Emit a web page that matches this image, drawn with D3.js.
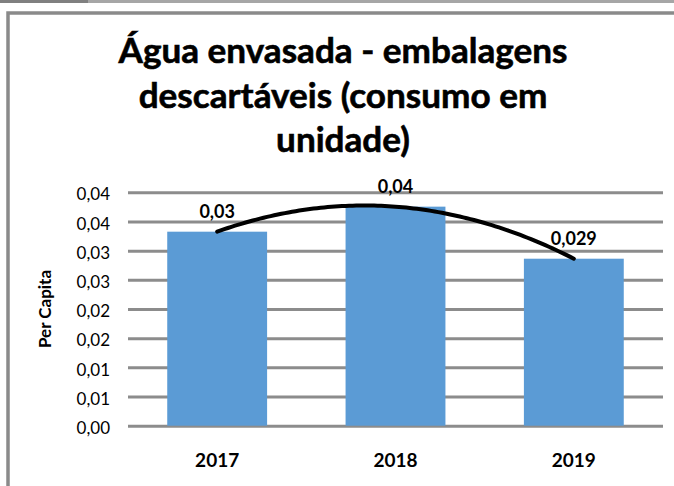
<!DOCTYPE html>
<html>
<head>
<meta charset="utf-8">
<script src="https://cdn.jsdelivr.net/npm/d3@7"></script>
<style>
  body { margin: 0; background: #fff; }
  svg { display: block; font-family: Lato, "Open Sans", sans-serif; }
</style>
</head>
<body>
<div id="chart"></div>
<script>
// chart data
var years = ["2017", "2018", "2019"];
var perCapita = [0.03325, 0.03754, 0.02862];
var valueLabels = ["0,03", "0,04", "0,029"];
var yTicks = [0, 0.005, 0.01, 0.015, 0.02, 0.025, 0.03, 0.035, 0.04];
var yTickLabels = ["0,00", "0,01", "0,01", "0,02", "0,02", "0,03", "0,03", "0,04", "0,04"];
var titleLines = ["Água envasada - embalagens", "descartáveis (consumo em", "unidade)"];

var svgWidth = 674;
var svgHeight = 486;

// plot area
var plot = { left: 128, right: 663, top: 192.3, bottom: 425.7 };

var svg = d3.select("#chart")
  .append("svg")
  .attr("width", svgWidth)
  .attr("height", svgHeight);

// thin strip at the very top and the chart frame
svg.append("line")
  .attr("x1", 0).attr("x2", svgWidth)
  .attr("y1", 1.5).attr("y2", 1.5)
  .attr("stroke", "#a6a6a6")
  .attr("stroke-width", 3);
svg.append("line")
  .attr("x1", 0).attr("x2", 88)
  .attr("y1", 1.5).attr("y2", 1.5)
  .attr("stroke", "#808080")
  .attr("stroke-width", 3);

svg.append("rect")
  .attr("x", 8)
  .attr("y", 13)
  .attr("width", svgWidth + 20)
  .attr("height", svgHeight + 20)
  .attr("fill", "none")
  .attr("stroke", "#8a8a8a")
  .attr("stroke-width", 3.5);

// title, fitted to the width of the first line
var title = svg.append("text")
  .attr("text-anchor", "middle")
  .attr("font-weight", "bold")
  .attr("font-size", 30)
  .attr("fill", "#000")
  .attr("stroke", "#000")
  .attr("stroke-width", 0.6);

title.selectAll("tspan")
  .data(titleLines)
  .enter()
  .append("tspan")
  .attr("x", 343)
  .attr("y", (d, i) => 63 + i * 44.5)
  .text(d => d);

var firstLine = title.select("tspan").node().getComputedTextLength();
title.attr("font-size", 30 * 449 / firstLine);

// scales
var xScale = d3.scaleBand()
  .domain(years)
  .range([plot.left, plot.right])
  .paddingInner(0.44)
  .paddingOuter(0.22);

var yScale = d3.scaleLinear()
  .domain([0, 0.04])
  .range([plot.bottom, plot.top]);

// gridlines + y tick labels
var leftAxis = d3.axisLeft(yScale)
  .tickValues(yTicks)
  .tickFormat((d, i) => yTickLabels[i])
  .tickSize(-(plot.right - plot.left))
  .tickPadding(18);

var yAxis = svg.append("g")
  .attr("transform", `translate(${plot.left}, 0)`)
  .call(leftAxis);

yAxis.select(".domain").remove();
yAxis.selectAll(".tick line")
  .attr("stroke", "#8c8c8c")
  .attr("stroke-width", 3);
yAxis.selectAll(".tick text")
  .attr("font-family", "Lato, sans-serif")
  .attr("font-size", 17)
  .attr("fill", "#000")
  .attr("dy", "0.45em");

// bars
svg.selectAll(".bar")
  .data(perCapita)
  .enter()
  .append("rect")
  .attr("class", "bar")
  .attr("x", (d, i) => xScale(years[i]))
  .attr("y", d => yScale(d))
  .attr("width", xScale.bandwidth())
  .attr("height", d => plot.bottom - yScale(d))
  .attr("fill", "#5b9bd5");

// polynomial (order 2) trendline through the bar values
function trendAt(t) {
  var y0 = perCapita[0], y1 = perCapita[1], y2 = perCapita[2];
  return y0 * (t - 1) * (t - 2) / 2 - y1 * t * (t - 2) + y2 * t * (t - 1) / 2;
}
var xStart = xScale(years[0]) + xScale.bandwidth() / 2;
var xStep = xScale.step();
var trendPoints = d3.range(0, 2.0001, 0.02);

var trendLine = d3.line()
  .x(t => xStart + t * xStep)
  .y(t => yScale(trendAt(t)));

svg.append("path")
  .datum(trendPoints)
  .attr("d", trendLine)
  .attr("fill", "none")
  .attr("stroke", "#000")
  .attr("stroke-width", 4)
  .attr("stroke-linecap", "round");

// value labels
svg.selectAll(".value-label")
  .data(perCapita)
  .enter()
  .append("text")
  .attr("class", "value-label")
  .attr("x", (d, i) => xScale(years[i]) + xScale.bandwidth() / 2)
  .attr("y", d => yScale(d) - 14)
  .attr("text-anchor", "middle")
  .attr("font-weight", "bold")
  .attr("font-size", 18)
  .text((d, i) => valueLabels[i]);

// x labels
svg.selectAll(".year-label")
  .data(years)
  .enter()
  .append("text")
  .attr("class", "year-label")
  .attr("x", d => xScale(d) + xScale.bandwidth() / 2)
  .attr("y", 467)
  .attr("text-anchor", "middle")
  .attr("font-weight", "bold")
  .attr("font-size", 19)
  .text(d => d);

// y axis title
svg.append("text")
  .attr("transform", "translate(51, 309) rotate(-90)")
  .attr("text-anchor", "middle")
  .attr("font-weight", "bold")
  .attr("font-size", 17)
  .text("Per Capita");
</script>
</body>
</html>
